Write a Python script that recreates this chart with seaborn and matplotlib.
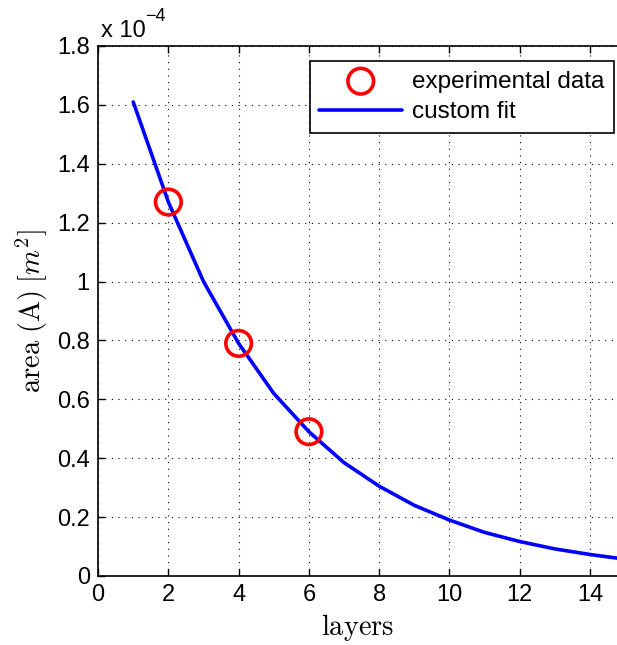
import numpy as np
import pandas as pd
import matplotlib
matplotlib.use("Agg")
import matplotlib.pyplot as plt
import seaborn as sns
from matplotlib.ticker import FuncFormatter, MultipleLocator

# data (values in m^2)
exp_layers = [2, 4, 6]
exp_area = [1.27e-4, 0.79e-4, 0.49e-4]
fit_layers = [1, 2, 3, 4, 5, 6, 7, 8, 9, 10, 11, 12, 13, 14, 15]
fit_area = [1.61e-4, 1.27e-4, 1.00e-4, 0.79e-4, 0.62e-4, 0.49e-4, 0.385e-4,
            0.305e-4, 0.24e-4, 0.19e-4, 0.148e-4, 0.117e-4, 0.092e-4, 0.073e-4, 0.057e-4]
x_ticks = [0, 2, 4, 6, 8, 10, 12, 14]

sns.set_style("white")
plt.rcParams['font.family'] = ['Liberation Sans', 'DejaVu Sans']
plt.rcParams['mathtext.fontset'] = 'cm'
for k in ['text.color', 'axes.labelcolor', 'xtick.color', 'ytick.color']:
    plt.rcParams[k] = 'black'

fig = plt.figure(figsize=(6.17, 6.45), dpi=100)
ax = fig.add_axes([0.159, 0.107, 0.841, 0.8217])

df_fit = pd.DataFrame({"layers": fit_layers, "area": fit_area})
df_exp = pd.DataFrame({"layers": exp_layers, "area": exp_area})

sns.lineplot(data=df_fit, x="layers", y="area", ax=ax, color="#0000ff",
             linewidth=2.6, label="custom fit", zorder=2)
sns.scatterplot(data=df_exp, x="layers", y="area", ax=ax, marker="o", s=340,
                facecolors="none", edgecolors="#ff0000", linewidth=2.6,
                label="experimental data", zorder=3)

ax.set_xlim(0, 14.77)
ax.set_ylim(0, 1.8e-4)
ax.set_xticks(x_ticks)
ax.yaxis.set_major_locator(MultipleLocator(0.2e-4))
ax.yaxis.set_major_formatter(FuncFormatter(
    lambda v, p: f"{v/1e-4:.1f}".rstrip('0').rstrip('.') if abs(v) > 1e-12 else "0"))

ax.grid(True, color="black", linestyle=(0, (1, 5)), linewidth=0.8)
ax.tick_params(axis="both", direction="in", length=5, width=1, labelsize=17,
               top=True, bottom=True, left=True, right=False, pad=6,
               colors="black")
for s in ["left", "bottom", "top"]:
    ax.spines[s].set_color("black")
    ax.spines[s].set_linewidth(1.2)
ax.spines["right"].set_visible(False)

ax.set_xlabel(r"$\mathrm{layers}$", fontsize=20.5, labelpad=4)
ax.set_ylabel(r"$\mathrm{area\ (A)}\;[m^2]$", fontsize=20.5, labelpad=5)

t = ax.text(0.005, 1.008, "x 10", transform=ax.transAxes, fontsize=17,
            ha="left", va="bottom")
ax.annotate("\u22124", xy=(1.0, 0.78), xycoords=t, fontsize=13,
            ha="left", va="bottom")

handles, labels = ax.get_legend_handles_labels()
order = [labels.index("experimental data"), labels.index("custom fit")]
leg = ax.legend([handles[i] for i in order], [labels[i] for i in order],
                loc="upper right", fontsize=17.5, frameon=True, fancybox=False,
                edgecolor="black", framealpha=1, borderpad=0.4,
                labelspacing=0.35, handlelength=3.4, handletextpad=0.4,
                borderaxespad=0.0, bbox_to_anchor=(0.994, 0.972))
leg.get_frame().set_linewidth(1.2)

fig.savefig("out.png", dpi=100)
